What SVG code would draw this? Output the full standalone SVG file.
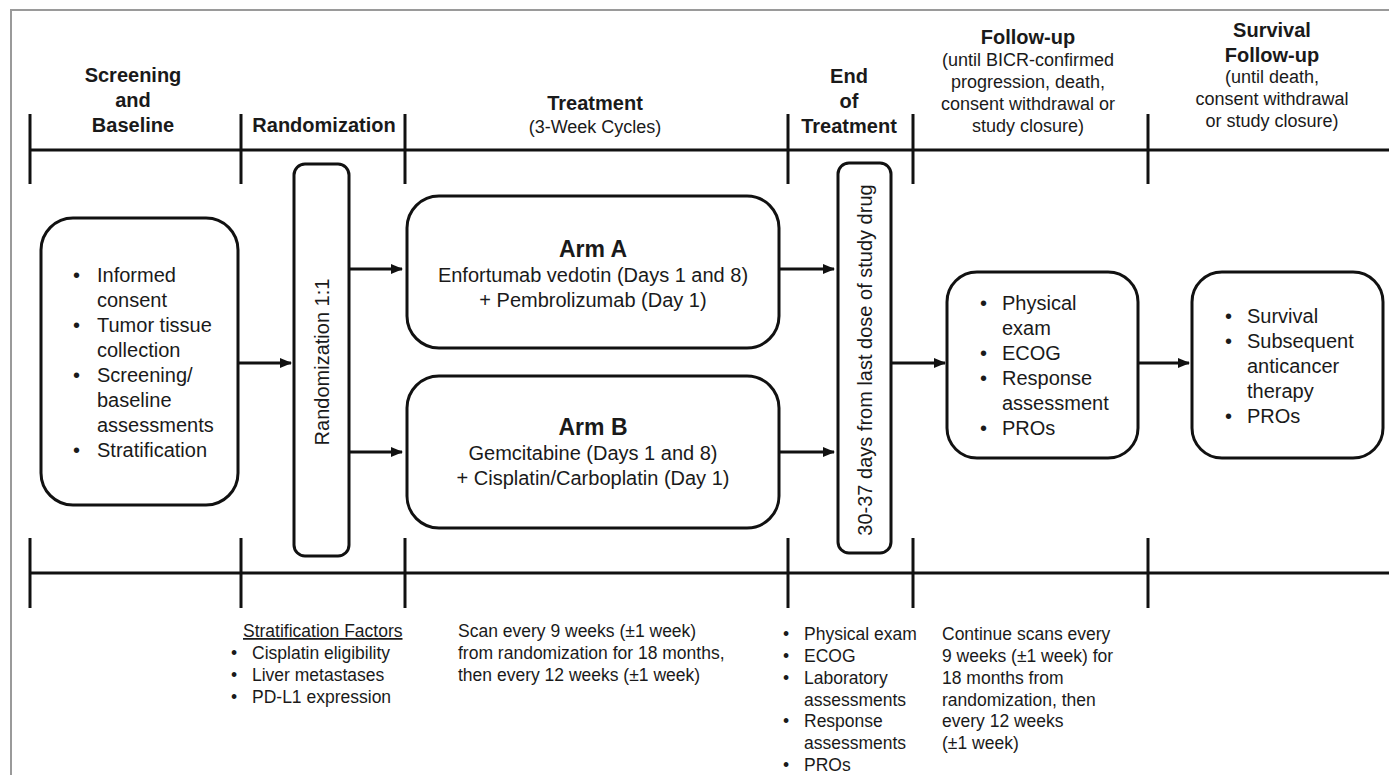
<svg xmlns="http://www.w3.org/2000/svg" width="1389" height="775" viewBox="0 0 1389 775">
<style>
text{font-family:"Liberation Sans",Arial,sans-serif;fill:#1a1a1a}
.h{font-size:20px;font-weight:bold}
.hs{font-size:18px}
.b{font-size:20px}
.s{font-size:17.5px}
.arm{font-size:23px;font-weight:bold}
.box{fill:#fff;stroke:#111;stroke-width:3}
.tl{stroke:#111;stroke-width:3;fill:none}
.c{stroke:#111;stroke-width:3;fill:none}
</style>
<defs>
<marker id="ah" markerWidth="12" markerHeight="12" refX="11" refY="6" orient="auto" markerUnits="userSpaceOnUse">
<path d="M0,1 L12,6 L0,11 Z" fill="#111"/>
</marker>
</defs>
<rect width="1389" height="775" fill="#fff"/>
<path d="M11,775 V10 H1389" fill="none" stroke="#9a9a9a" stroke-width="2"/>

<g id="timeline">
<line class="tl" x1="30" y1="150" x2="1389" y2="150"/>
<line class="tl" x1="30" y1="114" x2="30" y2="184"/>
<line class="tl" x1="241" y1="114" x2="241" y2="184"/>
<line class="tl" x1="405" y1="114" x2="405" y2="184"/>
<line class="tl" x1="788" y1="114" x2="788" y2="184"/>
<line class="tl" x1="913" y1="114" x2="913" y2="184"/>
<line class="tl" x1="1148" y1="114" x2="1148" y2="184"/>
<line class="tl" x1="30" y1="573" x2="1389" y2="573"/>
<line class="tl" x1="30" y1="538" x2="30" y2="608"/>
<line class="tl" x1="241" y1="538" x2="241" y2="608"/>
<line class="tl" x1="405" y1="538" x2="405" y2="608"/>
<line class="tl" x1="788" y1="538" x2="788" y2="608"/>
<line class="tl" x1="913" y1="538" x2="913" y2="608"/>
<line class="tl" x1="1148" y1="538" x2="1148" y2="608"/>
</g>

<g id="headers" text-anchor="middle">
<text class="h" x="133" y="82">Screening</text>
<text class="h" x="133" y="107">and</text>
<text class="h" x="133" y="132">Baseline</text>
<text class="h" x="324" y="132">Randomization</text>
<text class="h" x="595" y="110">Treatment</text>
<text class="hs" x="595" y="133">(3-Week Cycles)</text>
<text class="h" x="849" y="83">End</text>
<text class="h" x="849" y="108">of</text>
<text class="h" x="849" y="133">Treatment</text>
<text class="h" x="1028" y="44">Follow-up</text>
<text class="hs" x="1028" y="66">(until BICR-confirmed</text>
<text class="hs" x="1028" y="88">progression, death,</text>
<text class="hs" x="1028" y="110">consent withdrawal or</text>
<text class="hs" x="1028" y="132">study closure)</text>
<text class="h" x="1272" y="37">Survival</text>
<text class="h" x="1272" y="62">Follow-up</text>
<text class="hs" x="1272" y="83">(until death,</text>
<text class="hs" x="1272" y="105">consent withdrawal</text>
<text class="hs" x="1272" y="127">or study closure)</text>
</g>

<g id="connectors">
<line class="c" x1="238" y1="363" x2="291" y2="363" marker-end="url(#ah)"/>
<line class="c" x1="349" y1="269" x2="402" y2="269" marker-end="url(#ah)"/>
<line class="c" x1="349" y1="452" x2="402" y2="452" marker-end="url(#ah)"/>
<line class="c" x1="779" y1="269" x2="834" y2="269" marker-end="url(#ah)"/>
<line class="c" x1="779" y1="452" x2="834" y2="452" marker-end="url(#ah)"/>
<line class="c" x1="891" y1="363" x2="945" y2="363" marker-end="url(#ah)"/>
<line class="c" x1="1138" y1="363" x2="1189" y2="363" marker-end="url(#ah)"/>
</g>

<g id="screening">
<rect class="box" x="41" y="218" width="197" height="287" rx="32"/>
<g class="b">
<text x="73" y="282">•</text><text x="97" y="282">Informed</text>
<text x="97" y="307">consent</text>
<text x="73" y="332">•</text><text x="97" y="332">Tumor tissue</text>
<text x="97" y="357">collection</text>
<text x="73" y="382">•</text><text x="97" y="382">Screening/</text>
<text x="97" y="407">baseline</text>
<text x="97" y="432">assessments</text>
<text x="73" y="457">•</text><text x="97" y="457">Stratification</text>
</g>
</g>

<g id="randomization">
<rect class="box" x="294" y="164" width="55" height="392" rx="11"/>
<text class="b" text-anchor="middle" transform="translate(329,362) rotate(-90)">Randomization  1:1</text>
</g>

<g id="armA">
<rect class="box" x="407" y="196" width="372" height="152" rx="32"/>
<text class="arm" x="593" y="257" text-anchor="middle">Arm A</text>
<text class="b" x="593" y="282" text-anchor="middle">Enfortumab  vedotin  (Days 1 and 8)</text>
<text class="b" x="593" y="307" text-anchor="middle">+ Pembrolizumab  (Day 1)</text>
</g>

<g id="armB">
<rect class="box" x="407" y="376" width="372" height="152" rx="32"/>
<text class="arm" x="593" y="435" text-anchor="middle">Arm B</text>
<text class="b" x="593" y="460" text-anchor="middle">Gemcitabine  (Days 1 and 8)</text>
<text class="b" x="593" y="485" text-anchor="middle">+ Cisplatin/Carboplatin  (Day 1)</text>
</g>

<g id="eot">
<rect class="box" x="838" y="163" width="53" height="390" rx="11"/>
<text class="b" text-anchor="middle" transform="translate(872,360) rotate(-90)">30-37 days from last dose of study drug</text>
</g>

<g id="followup">
<rect class="box" x="947" y="272" width="191" height="186" rx="30"/>
<g class="b">
<text x="980" y="310">•</text><text x="1002" y="310">Physical</text>
<text x="1002" y="335">exam</text>
<text x="980" y="360">•</text><text x="1002" y="360">ECOG</text>
<text x="980" y="385">•</text><text x="1002" y="385">Response</text>
<text x="1002" y="410">assessment</text>
<text x="980" y="435">•</text><text x="1002" y="435">PROs</text>
</g>
</g>

<g id="survival">
<rect class="box" x="1192" y="272" width="191" height="186" rx="30"/>
<g class="b">
<text x="1225" y="323">•</text><text x="1247" y="323">Survival</text>
<text x="1225" y="348">•</text><text x="1247" y="348">Subsequent</text>
<text x="1247" y="373">anticancer</text>
<text x="1247" y="398">therapy</text>
<text x="1225" y="423">•</text><text x="1247" y="423">PROs</text>
</g>
</g>

<g id="stratification" class="s">
<text x="243" y="637" text-decoration="underline">Stratification Factors</text>
<text x="231" y="659">•</text><text x="252" y="659">Cisplatin  eligibility</text>
<text x="231" y="681">•</text><text x="252" y="681">Liver metastases</text>
<text x="231" y="703">•</text><text x="252" y="703">PD-L1 expression</text>
</g>

<g id="scan-note" class="s">
<text x="458" y="637">Scan every 9 weeks (±1 week)</text>
<text x="458" y="659">from randomization  for 18 months,</text>
<text x="458" y="681">then every  12 weeks (±1 week)</text>
</g>

<g id="eot-list" class="s">
<text x="783" y="640">•</text><text x="804" y="640">Physical  exam</text>
<text x="783" y="662">•</text><text x="804" y="662">ECOG</text>
<text x="783" y="684">•</text><text x="804" y="684">Laboratory</text>
<text x="804" y="706">assessments</text>
<text x="783" y="727">•</text><text x="804" y="727">Response</text>
<text x="804" y="749">assessments</text>
<text x="783" y="771">•</text><text x="804" y="771">PROs</text>
</g>

<g id="followup-note" class="s">
<text x="942" y="640">Continue  scans every</text>
<text x="942" y="662">9 weeks (±1 week) for</text>
<text x="942" y="684">18 months  from</text>
<text x="942" y="706">randomization,  then</text>
<text x="942" y="727">every 12 weeks</text>
<text x="942" y="749">(±1 week)</text>
</g>
</svg>
